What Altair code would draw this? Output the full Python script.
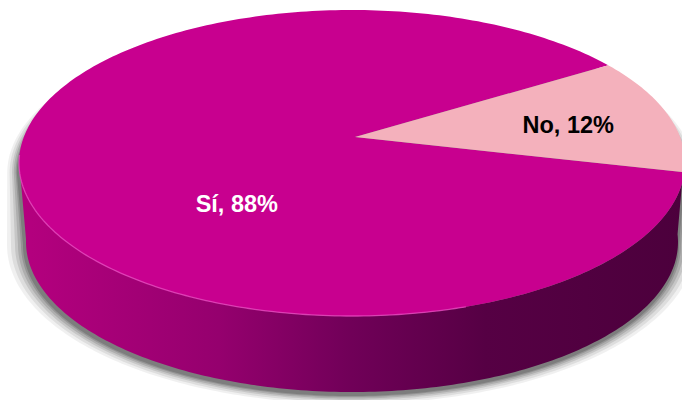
import altair as alt
import numpy as np
import pandas as pd

# ---- data ----
categories = ["Sí", "No"]
values = [88, 12]
label_texts = ["Sí, 88%", "No, 12%"]
top_colors = ["#C8008F", "#F4B1BC"]
label_colors = ["#FFFFFF", "#000000"]

# ---- layout / style (pixel geometry of the 3D pie) ----
CX, CY = 352.0, 163.0        # centre of the top ellipse
A, B = 333.0, 153.0          # semi-axes of top ellipse
A_BOT, B_BOT = 326.0, 150.0  # semi-axes of bottom ellipse (perspective)
DEPTH = 79.0                 # thickness of the pie
VX, VY = 355.0, 137.0        # apex of the slices (perspective centre)
START = 3.5                  # angle (deg, clockwise from 3 o'clock) where first slice starts
label_frac = [0.37, 0.68]
label_dy = [41, 4]
W, H = 682, 400


def rim(t_deg, a=A, b=B, cx=CX, cy=CY):
    t = np.radians(t_deg)
    return [float(cx + a * np.cos(t)), float(cy + b * np.sin(t))]


def arc(t0, t1, a=A, b=B, cx=CX, cy=CY):
    n = max(2, int(abs(t1 - t0) / 1.0) + 1)
    return [rim(t, a, b, cx, cy) for t in np.linspace(t0, t1, n)]


def poly(coords, **props):
    ring = coords + [coords[0]]
    return {"type": "Feature",
            "geometry": {"type": "Polygon", "coordinates": [ring]},
            "properties": props}


PROJ = dict(type="identity", scale=1, translate=[0, 0])

# ---- shadow ----
shadow_feats = []
for e, op in [(18, 0.06), (14, 0.08), (10, 0.10), (7, 0.12), (4, 0.14), (2, 0.16)]:
    sil = arc(180, 360, a=A + e * 0.6, b=B, cx=CX - 1, cy=CY + 10) + \
          arc(0, 180, a=A_BOT + e, b=B_BOT + e * 0.5, cx=CX - 1, cy=CY + DEPTH + 3)
    shadow_feats.append(poly(sil, op=op))
shadow = alt.Chart(alt.Data(values=shadow_feats)).mark_geoshape(
    fill="#000000", strokeWidth=0
).encode(opacity=alt.Opacity("properties.op:Q", scale=None)).project(**PROJ)

# ---- side ----
side_poly = arc(-3, 181) + arc(181, -3, a=A_BOT, b=B_BOT, cy=CY + DEPTH)
side = alt.Chart(alt.Data(values=[poly(side_poly, name="side")])).mark_geoshape(
    strokeWidth=0,
    fill=alt.Gradient(
        gradient="linear",
        stops=[
            alt.GradientStop(color="#B5007F", offset=0),
            alt.GradientStop(color="#95006E", offset=0.3),
            alt.GradientStop(color="#700058", offset=0.5),
            alt.GradientStop(color="#560044", offset=0.7),
            alt.GradientStop(color="#4C003C", offset=1),
        ],
        x1=0, x2=1, y1=0, y2=0,
    ),
).project(**PROJ)

# ---- top slices ----
total = float(sum(values))
slice_feats = []
label_rows = []
t = START
for cat, v, col, txt, lcol, f, dy in zip(categories, values, top_colors,
                                          label_texts, label_colors,
                                          label_frac, label_dy):
    span = 360.0 * v / total
    pts = [[VX, VY]] + arc(t, t + span)
    slice_feats.append(poly(pts, name=cat, fill=col))
    mid = t + span / 2
    rx, ry = rim(mid)
    label_rows.append({"lon": VX + f * (rx - VX), "lat": VY + f * (ry - VY) + dy,
                       "text": txt, "color": lcol})
    t += span

top = alt.Chart(alt.Data(values=slice_feats)).mark_geoshape(strokeWidth=0).encode(
    fill=alt.Fill("properties.fill:N", scale=None)
).project(**PROJ)

# ---- rim highlight ----
rim_line = alt.Chart(alt.Data(values=[{
    "type": "Feature",
    "geometry": {"type": "LineString", "coordinates": arc(70, 183)},
    "properties": {"name": "rim"}}])).mark_geoshape(
    filled=False, stroke="#EC4CC4", strokeWidth=1.3, strokeOpacity=0.75
).project(**PROJ)

# ---- labels ----
labels = alt.Chart(pd.DataFrame(label_rows)).mark_text(
    font="Liberation Sans", fontWeight="bold", fontSize=23.5,
    align="center", baseline="middle"
).encode(
    longitude="lon:Q", latitude="lat:Q", text="text:N",
    color=alt.Color("color:N", scale=None)
).project(**PROJ)

chart = alt.layer(shadow, side, top, rim_line, labels).properties(
    width=W, height=H, padding=0, autosize="none", background="#FFFFFF"
).configure_view(stroke="transparent")

chart.save("out.html", embed_options={"renderer": "svg", "actions": False})
